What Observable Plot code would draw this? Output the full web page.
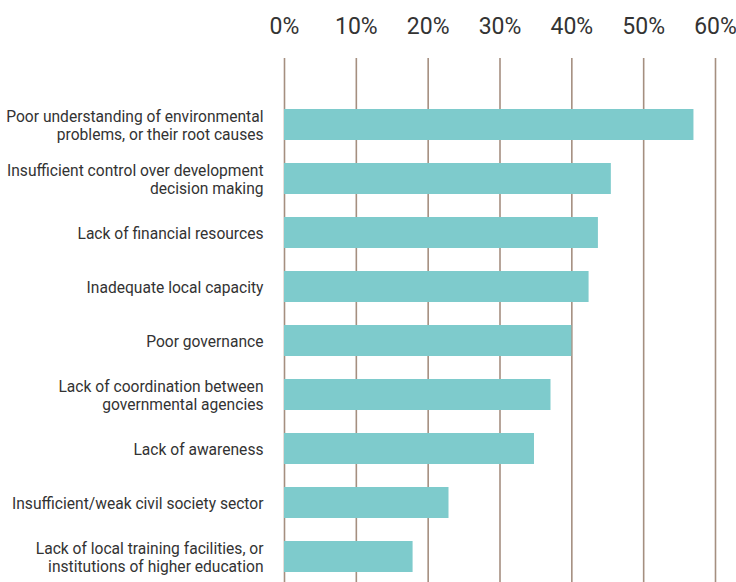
<!DOCTYPE html>
<html>
<head>
<meta charset="utf-8">
<script src="https://cdn.jsdelivr.net/npm/d3@7"></script>
<script src="https://cdn.jsdelivr.net/npm/@observablehq/plot@0.6"></script>
<style>
  html, body { margin: 0; padding: 0; background: #fff; }
  #chart svg { display: block; }
</style>
</head>
<body>
<div id="chart"></div>
<script>
const categories = [
  "Poor understanding of environmental\nproblems, or their root causes",
  "Insufficient control over development\ndecision making",
  "Lack of financial resources",
  "Inadequate local capacity",
  "Poor governance",
  "Lack of coordination between\ngovernmental agencies",
  "Lack of awareness",
  "Insufficient/weak civil society sector",
  "Lack of local training facilities, or\ninstitutions of higher education"
];
const values = [0.570, 0.455, 0.437, 0.424, 0.400, 0.371, 0.348, 0.229, 0.179];
const tickValues = [0, 0.1, 0.2, 0.3, 0.4, 0.5, 0.6];
const tickLabels = ["0%", "10%", "20%", "30%", "40%", "50%", "60%"];

const data = categories.map((c, i) => ({category: c, value: values[i]}));
const font = "Roboto, sans-serif";

const chart = Plot.plot({
  width: 736,
  height: 582,
  marginLeft: 284,
  marginRight: 21,
  marginTop: 58,
  marginBottom: 0,
  style: {fontFamily: font, color: "#333", background: "#fff"},
  x: {domain: [0, 0.6]},
  y: {domain: categories, range: [96.2, 584.4], paddingInner: 0.434, paddingOuter: 0.217},
  marks: [
    Plot.ruleX(tickValues, {stroke: "#a58f80", strokeWidth: 1.6}),
    Plot.barX(data, {x: "value", y: "category", fill: "#7ecbcc"}),
    Plot.axisX({
      anchor: "top",
      ticks: tickValues,
      tickFormat: (d) => tickLabels[tickValues.indexOf(d)],
      tickSize: 0,
      tickPadding: 25,
      fontSize: 23,
      fill: "#333",
      label: null
    }),
    Plot.axisY({
      tickSize: 0,
      tickPadding: 21,
      fontSize: 15.6,
      lineHeight: 1.15,
      fill: "#333",
      label: null
    })
  ]
});
document.getElementById("chart").appendChild(chart);
</script>
</body>
</html>
